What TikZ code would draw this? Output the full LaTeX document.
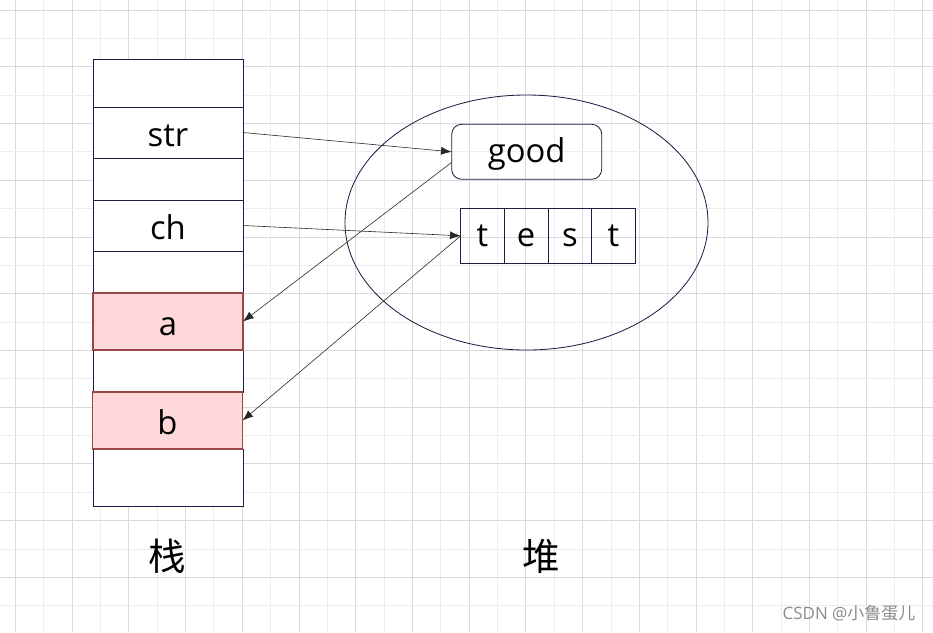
\documentclass[tikz,border=0pt]{standalone}
\usepackage{fontspec}
\setmainfont{Open Sans}
\newfontfamily\cjk{Noto Sans CJK SC}
\usepackage{tikz}
\usetikzlibrary{positioning, shapes.geometric, arrows.meta}
\definecolor{cellline}{HTML}{1B1B45}
\definecolor{hotfill}{HTML}{FFD9D9}
\definecolor{hotline}{HTML}{994646}
\definecolor{gridA}{HTML}{DADADA}
\definecolor{gridB}{HTML}{EDEDED}

\begin{document}
\begin{tikzpicture}[x=0.03cm, y=-0.03cm,%
        cell/.style={rectangle, draw=cellline, fill=white, line width=0.7pt, inner sep=0pt, outer sep=0pt, minimum width=4.5cm, text height=0.9cm, text depth=0.09cm, font=\fontsize{28}{32}\selectfont},
        hot/.style={cell, draw=hotline, fill=hotfill, line width=1.5pt},
        char/.style={rectangle, draw=cellline, line width=0.7pt, inner sep=0pt, outer sep=0pt, minimum width=1.31cm, minimum height=1.65cm, text height=0.75cm, text depth=0.09cm, font=\fontsize{28}{32}\selectfont},
        label/.style={font=\cjk\fontsize{32}{36}\selectfont},
        arrow/.style={-{Latex[length=3.2mm, width=2.4mm]}, line width=0.5pt, black!85}%
    ]
        \fill[white] (0,0) rectangle (933,632);
        \useasboundingbox (0,0) rectangle (933,632);
        \foreach \k in {0,...,32} {
            \pgfmathsetmacro{\gx}{15.3+28.36*\k}
            \ifodd\k \def\gc{gridB}\else \def\gc{gridA}\fi
            \draw[\gc, line width=0.6pt] (\gx,0) -- (\gx,632);
        }
        \foreach \k in {0,...,22} {
            \pgfmathsetmacro{\gy}{10+28.36*\k}
            \ifodd\k \def\gc{gridB}\else \def\gc{gridA}\fi
            \draw[\gc, line width=0.6pt] (0,\gy) -- (933,\gy);
        }

        \node[cell, minimum height=1.44cm] (top) at (168, 83) {};
        \node[cell, minimum height=1.53cm] (str) at (168, 132.5) {str};
        \node[cell, minimum height=1.26cm] (gap1) at (168, 179) {};
        \node[cell, minimum height=1.53cm] (ch) at (168, 225.5) {ch};
        \node[cell, minimum height=1.26cm] (gap2) at (168, 272) {};
        \node[cell, minimum height=1.26cm] (gap3) at (168, 371) {};
        \node[cell, minimum height=1.71cm] (bottom) at (168, 477.5) {};
        \node[hot, minimum height=1.71cm] (a) at (168, 321.5) {a};
        \node[hot, minimum height=1.71cm] (b) at (167.5, 420.5) {b};

        \node[ellipse, draw=cellline, line width=0.7pt, minimum width=10.89cm, minimum height=7.65cm] (heap) at (526.5, 222.5) {};
        \node[char, rounded corners=0.3cm, minimum width=4.5cm] (good) at (526.7, 151.8) {good};
        \node[char] (t1) at (482.5, 235.8) {t};
        \node[char, right=0pt of t1] (e) {e};
        \node[char, right=0pt of e] (s) {s};
        \node[char, right=0pt of s] (t2) {t};

        \draw[arrow] (str.east) -- (good.west);
        \draw[arrow] (ch.east) -- (t1.west);
        \draw[arrow] (good.188) -- (a.east);
        \draw[arrow] (t1.west) -- (b.east);

        \node[label] (stack) at (167, 556) {栈};
        \node[label] (heaplabel) at (541, 556) {堆};
        \node[font=\fontsize{14.5}{16}\selectfont, text=black!45] (mark) at (849, 613) {CSDN @{\cjk 小鲁蛋儿}};
    \end{tikzpicture}
\end{document}
